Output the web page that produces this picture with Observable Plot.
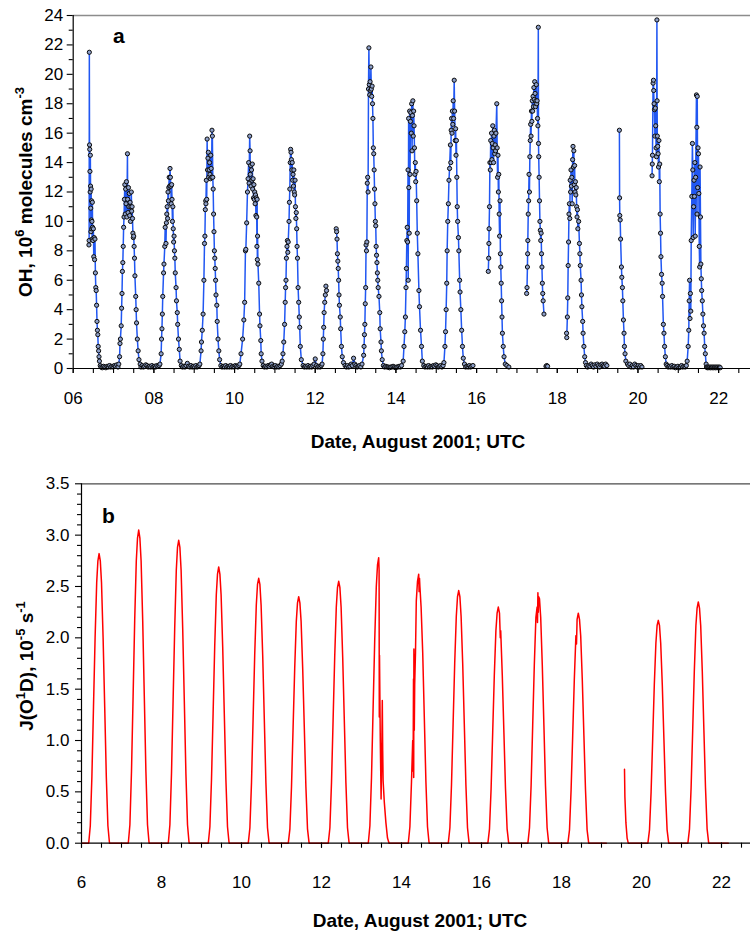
<!DOCTYPE html>
<html>
<head>
<meta charset="utf-8">
<script src="https://cdn.jsdelivr.net/npm/d3@7"></script>
<script src="https://cdn.jsdelivr.net/npm/@observablehq/plot@0.6"></script>
<style>
  html, body { margin: 0; padding: 0; background: #fff; }
  #chart svg { display: block; }
</style>
</head>
<body>
<div id="chart"></div>
<script>
// ---------- Panel a: OH (10^6 molecules cm^-3), [day of August 2001, value] ----------
const oh06 = [[6.39,8.4],[6.395,8.7],[6.40,21.5],[6.405,15.2],[6.41,14.9],[6.415,13.4],[6.42,12.0],[6.425,14.5],[6.43,12.4],[6.435,10.9],[6.44,9.3],[6.445,12.2],[6.45,10.1],[6.455,11.4],[6.46,9.5],[6.465,10.0],[6.47,8.8],[6.475,11.3],[6.48,9.6],[6.49,8.7],[6.50,9.5],[6.51,7.6],[6.52,8.9],[6.53,7.4],[6.54,8.8],[6.55,6.5],[6.56,5.5],[6.57,5.3],[6.58,4.3],[6.59,3.2],[6.60,2.6],[6.61,2.3],[6.62,1.5],[6.63,1.2],[6.64,0.8],[6.65,0.5],[6.67,0.2],
  [6.69,0.1],[6.72,0.05],[6.75,0.15],[6.78,0.1],[6.81,0.05],[6.84,0.15],[6.87,0.1],[6.90,0.2],[6.93,0.1],[6.96,0.15],[6.99,0.1],[7.02,0.2],[7.05,0.15],[7.08,0.25],[7.11,0.1]];
const oh07 = [[7.13,0.3],[7.15,0.8],[7.16,1.7],[7.17,2.0],[7.19,2.9],[7.20,4.1],[7.21,5.1],[7.22,6.6],[7.23,7.2],[7.24,8.3],[7.25,9.6],[7.26,10.3],[7.27,11.5],[7.28,12.5],[7.29,10.5],[7.30,12.2],[7.31,11.2],[7.32,12.7],[7.33,10.3],[7.345,14.6],[7.35,11.5],[7.36,10.6],[7.37,12.3],[7.38,11.0],[7.39,11.9],[7.40,10.4],[7.41,11.3],[7.42,10.0],[7.43,11.0],[7.44,12.0],[7.45,10.7],[7.46,11.0],[7.47,10.2],[7.48,9.2],[7.49,8.9],[7.50,9.0],[7.51,8.3],[7.52,7.5],[7.53,6.3],[7.55,4.9],[7.56,4.0],[7.57,3.1],[7.59,2.0],[7.61,1.2],[7.63,0.6],[7.66,0.3],[7.68,0.1],
  [7.71,0.2],[7.74,0.1],[7.77,0.15],[7.80,0.25],[7.83,0.2],[7.86,0.1],[7.89,0.15],[7.92,0.1],[7.95,0.2],[7.98,0.1],[8.01,0.15],[8.04,0.1],[8.07,0.2],[8.10,0.15],[8.13,0.2]];
const oh08 = [[8.15,0.3],[8.18,1.0],[8.19,2.0],[8.20,2.7],[8.21,3.7],[8.22,4.9],[8.24,6.5],[8.25,7.1],[8.27,8.3],[8.28,9.6],[8.30,8.5],[8.31,9.9],[8.32,10.5],[8.33,11.0],[8.34,10.2],[8.35,12.0],[8.36,11.4],[8.37,12.3],[8.38,13.0],[8.39,12.4],[8.40,13.6],[8.41,13.0],[8.42,12.4],[8.43,11.2],[8.44,12.5],[8.45,11.5],[8.46,10.0],[8.47,11.0],[8.48,9.5],[8.49,8.6],[8.50,9.0],[8.51,8.0],[8.52,7.5],[8.53,6.5],[8.55,5.5],[8.56,4.6],[8.58,3.8],[8.59,3.0],[8.61,2.0],[8.63,1.3],[8.65,0.5],[8.68,0.2],
  [8.71,0.1],[8.74,0.15],[8.77,0.1],[8.80,0.2],[8.83,0.35],[8.86,0.15],[8.89,0.1],[8.92,0.2],[8.95,0.1],[8.98,0.15],[9.01,0.1],[9.04,0.2],[9.07,0.1],[9.10,0.15],[9.12,0.2]];
const oh09 = [[9.14,0.3],[9.17,1.2],[9.18,1.8],[9.20,2.6],[9.22,3.7],[9.24,6.0],[9.255,8.5],[9.265,9.0],[9.275,10.8],[9.285,11.4],[9.29,11.2],[9.30,12.8],[9.31,11.5],[9.32,15.6],[9.33,13.5],[9.34,14.3],[9.35,14.7],[9.36,13.0],[9.37,13.5],[9.38,14.0],[9.39,13.2],[9.40,12.9],[9.41,14.5],[9.42,13.6],[9.43,13.0],[9.44,16.2],[9.45,15.8],[9.46,13.0],[9.47,12.2],[9.48,10.5],[9.49,9.3],[9.50,8.0],[9.51,7.5],[9.52,6.8],[9.53,6.0],[9.54,5.0],[9.56,4.3],[9.57,3.2],[9.59,2.0],[9.61,1.2],[9.63,0.6],[9.66,0.2],
  [9.69,0.1],[9.72,0.15],[9.75,0.1],[9.78,0.2],[9.81,0.1],[9.84,0.15],[9.87,0.1],[9.90,0.2],[9.93,0.1],[9.96,0.15],[9.99,0.1],[10.02,0.2],[10.05,0.15],[10.08,0.1],[10.11,0.2]];
const oh10 = [[10.13,0.3],[10.16,1.0],[10.20,2.0],[10.23,3.3],[10.25,4.5],[10.27,8.0],[10.28,8.1],[10.30,9.9],[10.32,12.0],[10.335,12.9],[10.35,14.0],[10.36,12.6],[10.375,15.8],[10.385,14.8],[10.39,13.2],[10.40,13.8],[10.41,12.4],[10.42,13.5],[10.43,12.8],[10.44,13.9],[10.45,12.2],[10.46,12.9],[10.47,11.6],[10.48,12.5],[10.49,11.5],[10.50,12.0],[10.51,11.2],[10.52,11.8],[10.53,10.4],[10.54,11.6],[10.55,10.3],[10.555,8.3],[10.56,11.5],[10.565,7.4],[10.57,9.0],[10.58,7.1],[10.60,5.8],[10.62,3.7],[10.63,2.9],[10.65,1.9],[10.66,1.0],[10.68,0.5],[10.71,0.2],
  [10.74,0.1],[10.77,0.15],[10.80,0.1],[10.83,0.2],[10.86,0.15],[10.89,0.25],[10.92,0.3],[10.95,0.15],[10.98,0.1],[11.01,0.2],[11.04,0.1],[11.07,0.15],[11.10,0.1],[11.13,0.2],[11.16,0.3]];
const oh11 = [[11.18,0.5],[11.20,1.0],[11.22,1.8],[11.24,3.0],[11.255,4.5],[11.265,5.5],[11.275,6.0],[11.285,7.5],[11.30,8.3],[11.31,8.7],[11.32,7.9],[11.33,8.6],[11.35,10.0],[11.36,11.3],[11.37,12.2],[11.38,14.0],[11.39,14.9],[11.40,14.7],[11.41,14.2],[11.42,13.5],[11.43,14.0],[11.44,12.8],[11.45,13.2],[11.46,12.4],[11.47,13.5],[11.48,12.0],[11.49,11.8],[11.50,12.8],[11.51,11.0],[11.52,10.2],[11.53,10.6],[11.54,9.5],[11.55,8.3],[11.56,7.5],[11.575,5.5],[11.59,4.5],[11.605,3.5],[11.615,2.8],[11.63,1.5],[11.655,0.6],[11.70,0.2],
  [11.73,0.1],[11.76,0.15],[11.79,0.1],[11.82,0.2],[11.85,0.1],[11.88,0.15],[11.91,0.1],[11.94,0.2],[11.97,0.3],[12.00,0.65],[12.03,0.2],[12.06,0.1],[12.09,0.15],[12.12,0.1],[12.15,0.2]];
const oh12a = [[12.17,0.3],[12.19,1.0],[12.20,2.0],[12.21,2.8],[12.22,3.8],[12.235,4.5],[12.25,5.0],[12.265,5.6],[12.28,5.3]];
const oh12b = [[12.52,9.5],[12.53,9.3],[12.54,8.8],[12.55,7.8],[12.56,7.3],[12.57,6.8],[12.58,6.0],[12.59,5.0],[12.60,4.3],[12.62,3.5],[12.63,2.7],[12.65,1.5],[12.67,0.8],[12.70,0.4],[12.74,0.2],
  [12.77,0.1],[12.80,0.2],[12.83,0.1],[12.86,0.15],[12.89,0.3],[12.92,0.2],[12.95,0.7],[12.98,0.3],[13.01,0.2],[13.04,0.1],[13.07,0.15],[13.10,0.2],[13.13,0.1]];
const oh13 = [[13.16,0.3],[13.20,0.9],[13.21,1.5],[13.22,2.3],[13.23,3.0],[13.24,4.4],[13.25,5.5],[13.26,8.4],[13.27,8.0],[13.28,8.6],[13.29,12.6],[13.30,13.0],[13.31,12.0],[13.32,19.0],[13.33,21.8],[13.34,19.3],[13.35,18.6],[13.36,19.5],[13.37,18.9],[13.38,20.5],[13.39,19.0],[13.40,18.5],[13.41,19.2],[13.42,18.0],[13.43,17.0],[13.44,15.0],[13.45,14.6],[13.46,13.5],[13.47,12.2],[13.48,11.2],[13.49,10.0],[13.50,9.7],[13.51,8.3],[13.52,7.7],[13.53,7.2],[13.54,6.5],[13.55,6.0],[13.56,5.5],[13.58,4.9],[13.60,3.8],[13.61,2.7],[13.63,1.8],[13.64,1.2],[13.66,0.6],[13.69,0.2],
  [13.72,0.1],[13.75,0.15],[13.78,0.1],[13.81,0.1],[13.84,0.05],[13.87,0.1],[13.90,0.1],[13.93,0.15],[13.96,0.1],[13.99,0.05],[14.02,0.1],[14.05,0.1],[14.08,0.15],[14.11,0.1],[14.14,0.2]];
const oh14 = [[14.18,0.5],[14.20,1.5],[14.22,2.5],[14.235,3.5],[14.25,5.5],[14.26,6.8],[14.27,8.7],[14.28,9.6],[14.29,8.6],[14.30,13.5],[14.305,6.0],[14.315,17.0],[14.32,12.3],[14.33,9.2],[14.34,17.5],[14.35,13.2],[14.36,16.8],[14.37,17.4],[14.38,16.0],[14.39,18.0],[14.40,14.8],[14.41,17.2],[14.42,18.2],[14.43,15.8],[14.44,17.5],[14.45,16.5],[14.46,15.0],[14.47,13.2],[14.48,14.0],[14.49,12.7],[14.50,13.4],[14.515,11.4],[14.53,9.2],[14.545,7.8],[14.57,5.3],[14.585,4.2],[14.61,2.6],[14.635,1.5],[14.655,0.5],[14.69,0.2],
  [14.72,0.1],[14.75,0.15],[14.78,0.1],[14.81,0.2],[14.84,0.1],[14.87,0.15],[14.90,0.1],[14.93,0.2],[14.96,0.15],[14.99,0.25],[15.02,0.2],[15.05,0.1],[15.08,0.15],[15.11,0.2],[15.14,0.1],[15.17,0.2]];
const oh15 = [[15.19,0.4],[15.215,1.5],[15.23,2.5],[15.245,4.0],[15.26,5.8],[15.27,8.0],[15.285,10.0],[15.30,11.2],[15.315,12.8],[15.33,13.6],[15.35,15.2],[15.36,14.0],[15.37,16.2],[15.38,17.0],[15.39,16.0],[15.40,17.5],[15.41,16.6],[15.42,18.2],[15.43,17.0],[15.445,19.6],[15.455,17.5],[15.47,15.5],[15.48,16.3],[15.49,14.5],[15.50,15.5],[15.51,13.0],[15.52,11.0],[15.53,10.0],[15.55,8.9],[15.56,8.0],[15.58,6.0],[15.59,5.2],[15.61,4.0],[15.63,2.6],[15.65,1.5],[15.67,0.7],[15.70,0.3],[15.73,0.1],
  [15.76,0.15],[15.79,0.1],[15.82,0.2],[15.85,0.1],[15.88,0.15],[15.91,0.2]];
const oh16 = [[16.29,6.6],[16.30,7.5],[16.305,8.5],[16.31,9.5],[16.32,11.0],[16.33,14.0],[16.34,13.5],[16.35,15.5],[16.36,14.0],[16.37,16.0],[16.38,14.2],[16.39,15.3],[16.40,16.5],[16.41,15.0],[16.42,14.0],[16.43,15.8],[16.44,16.2],[16.45,14.6],[16.46,15.2],[16.47,14.8],[16.48,16.0],[16.50,18.0],[16.51,15.0],[16.52,13.0],[16.53,14.5],[16.54,12.0],[16.55,13.2],[16.56,10.5],[16.57,9.0],[16.58,11.4],[16.59,7.8],[16.60,6.9],[16.61,5.8],[16.62,4.6],[16.63,3.5],[16.64,2.4],[16.66,1.5],[16.68,0.8],[16.71,0.3],[16.75,0.2],[16.80,0.1]];
const oh17 = [[17.24,5.1],[17.25,5.5],[17.26,6.9],[17.265,7.8],[17.27,8.7],[17.28,10.5],[17.29,11.4],[17.30,13.2],[17.31,12.0],[17.32,14.4],[17.33,15.5],[17.34,16.6],[17.35,15.8],[17.36,17.5],[17.37,16.8],[17.38,18.2],[17.39,17.5],[17.40,18.5],[17.41,17.8],[17.42,19.1],[17.43,18.3],[17.44,19.5],[17.45,18.7],[17.46,17.8],[17.47,18.2],[17.48,19.3],[17.49,18.0],[17.50,18.2],[17.51,17.0],[17.52,16.5],[17.53,23.2],[17.535,15.3],[17.54,14.4],[17.55,13.0],[17.56,11.4],[17.57,10.0],[17.58,9.4],[17.59,8.7],[17.60,9.2],[17.61,7.8],[17.62,6.9],[17.63,5.8],[17.64,5.1],[17.65,4.6],[17.67,3.7]];
const oh17n = [[17.72,0.15],[17.74,0.2],[17.76,0.15]];
const oh18 = [[18.23,2.4],[18.235,2.1],[18.25,3.5],[18.26,4.8],[18.27,7.0],[18.28,8.6],[18.29,10.5],[18.30,11.2],[18.31,10.2],[18.32,12.8],[18.33,12.0],[18.34,13.5],[18.35,12.4],[18.36,13.0],[18.37,11.2],[18.38,14.2],[18.39,15.1],[18.40,13.7],[18.41,14.8],[18.42,12.5],[18.43,13.8],[18.44,12.0],[18.45,12.7],[18.46,11.8],[18.47,12.3],[18.48,11.0],[18.49,10.3],[18.50,10.8],[18.51,9.5],[18.53,10.0],[18.55,8.5],[18.56,7.8],[18.57,7.0],[18.59,6.0],[18.60,5.0],[18.61,4.2],[18.63,3.2],[18.64,2.4],[18.66,1.5],[18.68,0.8],[18.70,0.4],[18.72,0.2],
  [18.75,0.1],[18.78,0.2],[18.81,0.15],[18.84,0.3],[18.87,0.2],[18.90,0.1],[18.93,0.25],[18.96,0.15],[18.99,0.3],[19.02,0.2],[19.05,0.1],[19.08,0.25],[19.11,0.3],[19.14,0.2],[19.17,0.15],[19.20,0.3],[19.23,0.2]];
const oh19 = [[19.54,16.2],[19.545,11.6],[19.55,10.4],[19.56,10.1],[19.57,8.8],[19.59,6.9],[19.60,6.2],[19.615,5.5],[19.625,4.6],[19.64,3.3],[19.655,2.4],[19.665,1.5],[19.68,1.0],[19.70,0.5],[19.74,0.3],
  [19.77,0.2],[19.80,0.3],[19.83,0.1],[19.86,0.2],[19.89,0.1],[19.92,0.3],[19.95,0.2],[19.98,0.1],[20.01,0.2],[20.04,0.1],[20.07,0.2],[20.10,0.1]];
const oh20 = [[20.35,13.1],[20.355,13.9],[20.36,14.5],[20.375,19.4],[20.385,19.6],[20.39,18.9],[20.40,18.0],[20.41,17.6],[20.42,15.8],[20.43,17.7],[20.44,16.5],[20.45,15.0],[20.46,14.4],[20.47,23.7],[20.475,18.2],[20.48,15.8],[20.49,15.1],[20.50,14.6],[20.51,13.7],[20.52,15.5],[20.53,12.7],[20.54,13.9],[20.55,10.5],[20.56,9.2],[20.57,7.6],[20.585,6.4],[20.60,5.8],[20.61,4.9],[20.63,3.0],[20.645,2.4],[20.66,1.5],[20.68,0.8],[20.70,0.3],[20.72,0.2],
  [20.75,0.1],[20.78,0.15],[20.81,0.1],[20.84,0.2],[20.87,0.1],[20.90,0.15],[20.93,0.05],[20.96,0.1],[20.99,0.15],[21.02,0.05],[21.05,0.1],[21.08,0.2],[21.11,0.1],[21.14,0.15],[21.17,0.1],[21.20,0.2]];
const oh21 = [[21.22,0.5],[21.245,1.5],[21.26,2.6],[21.27,4.6],[21.28,6.0],[21.29,3.4],[21.30,5.1],[21.31,3.9],[21.32,8.7],[21.335,11.7],[21.35,15.3],[21.36,13.5],[21.37,8.9],[21.38,11.0],[21.39,12.8],[21.40,11.7],[21.41,14.0],[21.42,9.0],[21.43,13.0],[21.45,18.6],[21.46,16.4],[21.465,10.5],[21.47,18.5],[21.48,12.3],[21.49,15.0],[21.50,14.6],[21.51,11.9],[21.52,8.3],[21.53,6.9],[21.54,13.7],[21.55,10.3],[21.56,7.1],[21.57,6.1],[21.58,5.3],[21.595,4.6],[21.61,3.7],[21.625,2.9],[21.64,2.4],[21.655,1.5],[21.67,1.0],[21.69,0.3],[21.70,0.1],
  [21.72,0.05],[21.74,0.1],[21.76,0.05],[21.78,0.1],[21.80,0.05],[21.82,0.1],[21.84,0.05],[21.86,0.1],[21.88,0.05],[21.90,0.1],[21.92,0.05],[21.94,0.1],[21.96,0.05],[21.98,0.1],[22.00,0.05],[22.02,0.1],[22.04,0.05]];
// continuous measurement runs (gaps between runs are not joined)
const ohRuns = [[oh06, oh07, oh08, oh09, oh10, oh11, oh12a], [oh12b, oh13, oh14, oh15], [oh16], [oh17], [oh17n], [oh18], [oh19], [oh20, oh21]];

// ---------- Panel b: J(O1D) (10^-5 s^-1) ----------
const j06 = [[6.00,0],[6.18,0],[6.22,0.17],[6.26,0.65],[6.30,1.33],[6.34,2.00],[6.38,2.54],[6.41,2.75],[6.44,2.82],[6.47,2.75],[6.50,2.54],[6.54,2.00],[6.58,1.33],[6.62,0.65],[6.66,0.17],[6.70,0]];
const j07 = [[7.17,0],[7.21,0.18],[7.25,0.70],[7.29,1.43],[7.33,2.17],[7.37,2.75],[7.40,2.97],[7.43,3.05],[7.46,2.97],[7.49,2.75],[7.53,2.17],[7.57,1.43],[7.61,0.70],[7.65,0.18],[7.69,0]];
const j08 = [[8.17,0],[8.21,0.18],[8.25,0.68],[8.29,1.39],[8.33,2.09],[8.37,2.66],[8.40,2.88],[8.43,2.95],[8.46,2.88],[8.49,2.66],[8.53,2.09],[8.57,1.39],[8.61,0.68],[8.65,0.18],[8.69,0]];
const j09 = [[9.17,0],[9.21,0.16],[9.25,0.62],[9.29,1.26],[9.33,1.91],[9.37,2.42],[9.40,2.62],[9.43,2.69],[9.46,2.62],[9.49,2.42],[9.53,1.91],[9.57,1.26],[9.61,0.62],[9.65,0.16],[9.69,0]];
const j10 = [[10.17,0],[10.21,0.15],[10.25,0.59],[10.29,1.21],[10.33,1.83],[10.37,2.32],[10.40,2.52],[10.43,2.58],[10.46,2.52],[10.49,2.32],[10.53,1.83],[10.57,1.21],[10.61,0.59],[10.65,0.15],[10.69,0]];
const j11 = [[11.17,0],[11.21,0.14],[11.25,0.55],[11.29,1.13],[11.33,1.70],[11.37,2.16],[11.40,2.34],[11.43,2.40],[11.46,2.34],[11.49,2.16],[11.53,1.70],[11.57,1.13],[11.61,0.55],[11.65,0.14],[11.69,0]];
const j12 = [[12.17,0],[12.21,0.15],[12.25,0.59],[12.29,1.20],[12.33,1.81],[12.37,2.30],[12.40,2.49],[12.43,2.55],[12.46,2.49],[12.49,2.30],[12.53,1.81],[12.57,1.20],[12.61,0.59],[12.65,0.15],[12.69,0]];
const j13 = [[13.17,0],[13.21,0.17],[13.25,0.64],[13.29,1.31],[13.33,1.97],[13.37,2.50],[13.40,2.71],[13.43,2.78],[13.44,2.66],[13.445,1.23],[13.45,1.83],[13.47,1.00],[13.49,0.43],[13.51,1.00],[13.52,1.39],[13.53,0.90],[13.54,0.61],[13.57,0.40],[13.61,0.20],[13.65,0.05],[13.69,0]];
const j14 = [[14.17,0],[14.21,0.16],[14.25,0.60],[14.28,1.00],[14.29,0.70],[14.30,1.60],[14.305,0.64],[14.31,1.89],[14.32,1.10],[14.33,1.55],[14.35,1.86],[14.37,2.36],[14.40,2.55],[14.43,2.62],[14.44,2.45],[14.45,2.58],[14.46,2.50],[14.49,2.30],[14.53,1.86],[14.57,1.23],[14.61,0.60],[14.65,0.16],[14.69,0]];
const j15 = [[15.17,0],[15.21,0.15],[15.25,0.57],[15.29,1.16],[15.33,1.75],[15.37,2.21],[15.40,2.40],[15.43,2.46],[15.46,2.40],[15.49,2.21],[15.53,1.75],[15.57,1.16],[15.61,0.57],[15.65,0.15],[15.69,0]];
const j16 = [[16.16,0],[16.20,0.14],[16.24,0.53],[16.28,1.08],[16.32,1.63],[16.36,2.07],[16.39,2.24],[16.42,2.30],[16.45,2.24],[16.47,2.00],[16.48,2.07],[16.52,1.63],[16.56,1.08],[16.60,0.53],[16.64,0.14],[16.68,0]];
const j17 = [[17.16,0],[17.20,0.15],[17.24,0.56],[17.28,1.15],[17.32,1.73],[17.36,2.20],[17.39,2.30],[17.40,2.15],[17.41,2.44],[17.42,2.25],[17.43,2.40],[17.45,2.38],[17.48,2.20],[17.52,1.73],[17.56,1.15],[17.60,0.56],[17.64,0.15],[17.68,0]];
const j18 = [[18.16,0],[18.20,0.13],[18.24,0.52],[18.28,1.05],[18.32,1.59],[18.36,2.02],[18.375,1.94],[18.39,2.18],[18.42,2.24],[18.45,2.18],[18.48,2.02],[18.52,1.59],[18.56,1.05],[18.60,0.52],[18.64,0.13],[18.68,0],[19.12,0]];
const j19 = [[19.575,0.72],[19.585,0.45],[19.61,0.20],[19.64,0.05],[19.67,0]];
const j20 = [[20.16,0],[20.20,0.13],[20.24,0.50],[20.28,1.02],[20.32,1.54],[20.36,1.95],[20.39,2.12],[20.42,2.17],[20.45,2.12],[20.48,1.95],[20.52,1.54],[20.56,1.02],[20.60,0.50],[20.64,0.13],[20.68,0]];
const j21 = [[21.16,0],[21.20,0.14],[21.24,0.54],[21.28,1.10],[21.32,1.67],[21.36,2.12],[21.39,2.29],[21.42,2.35],[21.45,2.29],[21.48,2.12],[21.52,1.67],[21.56,1.10],[21.60,0.54],[21.64,0.14],[21.68,0],[22.17,0]];
const jRuns = [[j06, j07, j08, j09, j10, j11, j12, j13, j14, j15, j16, j17, j18], [j19, j20, j21]];

// ---------- ticks ----------
const xMajorTicks = [6, 8, 10, 12, 14, 16, 18, 20, 22];
const xTickLabelsA = ["06", "08", "10", "12", "14", "16", "18", "20", "22"];
const xTickLabelsB = ["6", "8", "10", "12", "14", "16", "18", "20", "22"];
const yTicksA = [0, 2, 4, 6, 8, 10, 12, 14, 16, 18, 20, 22, 24];
const yTicksB = [0, 0.5, 1.0, 1.5, 2.0, 2.5, 3.0, 3.5];
const yTickLabelsB = ["0.0", "0.5", "1.0", "1.5", "2.0", "2.5", "3.0", "3.5"];

const toRows = runs => runs.flatMap((run, i) => run.flat().map(([t, v]) => ({t, v, run: i})));
const ohData = toRows(ohRuns);
const jData = toRows(jRuns);

const FONT = "'Liberation Sans', Arial, Helvetica, sans-serif";
const tickFont = "17px";
const xHalf = d3.range(6, 23, 0.5);

// ---------- panel a ----------
const plotA = Plot.plot({
  width: 750, height: 470,
  marginLeft: 72.7, marginRight: 0, marginTop: 15, marginBottom: 102,
  style: {fontFamily: FONT, fontSize: tickFont, color: "#000", background: "#fff"},
  x: {domain: [6, 22.79], label: null},
  y: {domain: [0, 24], label: null},
  marks: [
    Plot.ruleY([24], {stroke: "#8c8c8c", strokeWidth: 1.3}),
    Plot.line(ohData, {x: "t", y: "v", z: "run", stroke: "#2157f2", strokeWidth: 1.5, curve: "linear"}),
    Plot.dot(ohData, {x: "t", y: "v", r: 2.1, stroke: "#0a0a0a", strokeWidth: 1, fill: "#8d9fc8"}),
    Plot.ruleX([6], {stroke: "#000", strokeWidth: 1.2}),
    Plot.ruleY([0], {stroke: "#000", strokeWidth: 1.2}),
    Plot.axisY({ticks: yTicksA, tickSize: 6, tickPadding: 4, tickFormat: d => String(d), label: null, strokeWidth: 1.1}),
    Plot.axisY({ticks: d3.range(1, 24, 2), tickSize: 4, tickFormat: () => "", label: null, strokeWidth: 1.1}),
    Plot.axisX({ticks: xHalf, tickSize: 5, tickFormat: () => "", label: null, strokeWidth: 1.1}),
    Plot.axisX({ticks: xMajorTicks, tickSize: 5, tickPadding: 18, tickFormat: d => xTickLabelsA[xMajorTicks.indexOf(d)], label: null, strokeWidth: 1.1})
  ]
});

// ---------- panel b ----------
const plotB = Plot.plot({
  width: 750, height: 461,
  marginLeft: 81, marginRight: 0, marginTop: 13.3, marginBottom: 88.3,
  style: {fontFamily: FONT, fontSize: tickFont, color: "#000", background: "#fff"},
  x: {domain: [6, 22.725], label: null},
  y: {domain: [0, 3.5], label: null},
  marks: [
    Plot.ruleY([3.5], {stroke: "#4a4a4a", strokeWidth: 1.3}),
    Plot.line(jData, {x: "t", y: "v", z: "run", stroke: "#ff0000", strokeWidth: 1.5}),
    Plot.ruleX([6], {stroke: "#000", strokeWidth: 1.2}),
    Plot.ruleY([0], {stroke: "#000", strokeWidth: 1.2}),
    Plot.axisY({ticks: yTicksB, tickSize: 6, tickPadding: 6, tickFormat: d => yTickLabelsB[yTicksB.indexOf(d)], label: null, strokeWidth: 1.1}),
    Plot.axisY({ticks: d3.range(0.1, 3.5, 0.1).filter((d, i) => (i + 1) % 5 !== 0), tickSize: 4, tickFormat: () => "", label: null, strokeWidth: 1.1}),
    Plot.axisX({ticks: xHalf, tickSize: 5, tickFormat: () => "", label: null, strokeWidth: 1.1}),
    Plot.axisX({ticks: xMajorTicks, tickSize: 5, tickPadding: 28, tickFormat: d => xTickLabelsB[xMajorTicks.indexOf(d)], label: null, strokeWidth: 1.1})
  ]
});

// ---------- titles with superscripts ----------
function addText(svg, {x, y, rotate = 0, size, parts, anchor = "middle"}) {
  const t = d3.select(svg).append("text")
    .attr("transform", `translate(${x},${y}) rotate(${rotate})`)
    .attr("text-anchor", anchor)
    .attr("font-family", FONT)
    .attr("font-weight", "bold")
    .attr("font-size", size)
    .attr("fill", "#000");
  const supSize = Math.round(size * 0.68);
  const rise = Math.round(size * 0.42);
  let raised = false;
  for (const [txt, sup] of parts) {
    const s = t.append("tspan").text(txt);
    if (sup && !raised) { s.attr("dy", -rise).attr("font-size", supSize); raised = true; }
    else if (!sup && raised) { s.attr("dy", rise); raised = false; }
    else if (sup) s.attr("font-size", supSize);
  }
}

addText(plotA, {x: 32, y: 192, rotate: -90, size: 19,
  parts: [["OH, 10"], ["6", true], [" molecules cm"], ["-3", true]]});
addText(plotA, {x: 418, y: 448, size: 19, parts: [["Date, August 2001; UTC"]]});
addText(plotA, {x: 113, y: 43, size: 21, anchor: "start", parts: [["a"]]});

// panel b coordinates are local to its own svg (which starts 470 px down the page)
addText(plotB, {x: 33, y: 196, rotate: -90, size: 19,
  parts: [["J(O"], ["1", true], ["D), 10"], ["-5", true], [" s"], ["-1", true]]});
addText(plotB, {x: 420, y: 457, size: 19, parts: [["Date, August 2001; UTC"]]});
addText(plotB, {x: 102, y: 53, size: 21, anchor: "start", parts: [["b"]]});

document.getElementById("chart").append(plotA, plotB);
</script>
</body>
</html>
